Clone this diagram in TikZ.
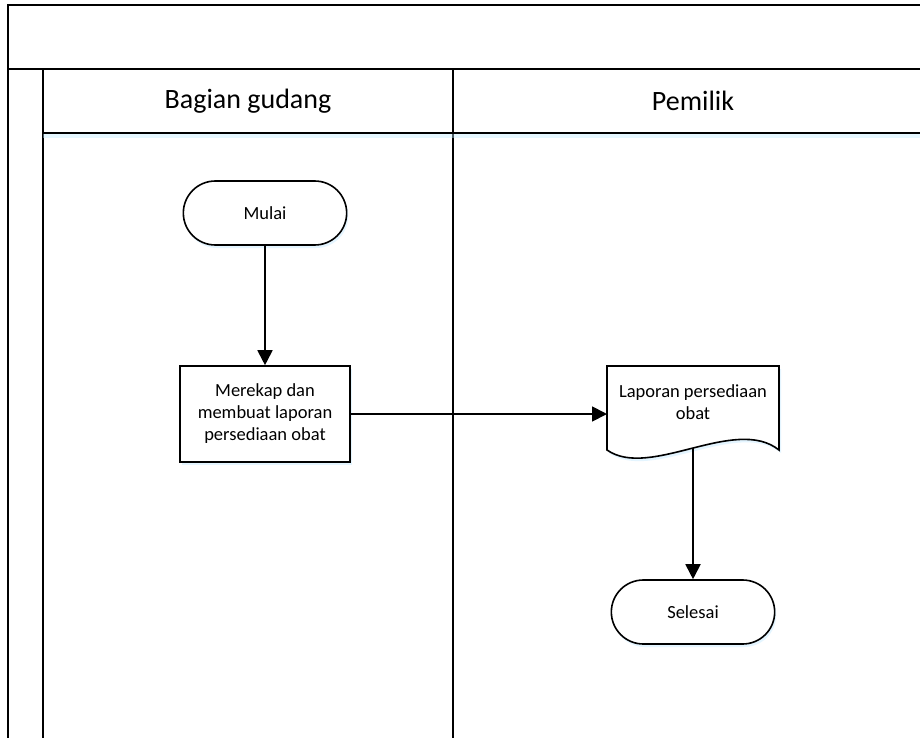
\documentclass[tikz,border=0pt]{standalone}
\usepackage{fontspec}
\setmainfont{Carlito}
\usetikzlibrary{arrows.meta,shapes.misc,shadows}
\tikzset{
  frameline/.style={line width=1.7pt},
  shd/.style={drop shadow={shadow xshift=1.5pt,shadow yshift=-3pt,fill=blue!35!cyan!30,opacity=0.35}},
  termbox/.style={rounded rectangle,draw,fill=white,line width=1.6pt,minimum width=170pt,minimum height=64pt,shd,font=\fontsize{18.5}{22}\selectfont},
  procbox/.style={rectangle,draw,fill=white,line width=1.6pt,minimum width=170pt,minimum height=96pt,align=center,shd,font=\fontsize{18.5}{22}\selectfont},
  headtext/.style={font=\fontsize{28}{32}\selectfont},
  flow/.style={line width=1.8pt,-{Triangle[length=15pt,width=15pt]}}
}
\begin{document}
\begin{tikzpicture}[x=1pt,y=-1pt]
\clip (0,0) rectangle (920,738);
\fill[white] (0,0) rectangle (920,738);
% pool frame
\draw[frameline] (8,740) -- (8,5) -- (940,5);
\draw[frameline] (8,69) -- (940,69);
\draw[frameline] (43,69) -- (43,740);
\draw[frameline] (453,69) -- (453,740);
\fill[blue!30!cyan!25,opacity=0.4] (43,134) rectangle (940,138);
\draw[frameline] (43,133) -- (940,133);
% headers
\node[headtext] (h1) at (248,101) {Bagian gudang};
\node[headtext] (h2) at (693,101) {Pemilik};
% nodes
\node[termbox] (mulai) at (265,213) {Mulai};
\node[procbox] (rekap) at (265,414) {Merekap dan\\membuat laporan\\persediaan obat};
\node[termbox] (selesai) at (693,612) {Selesai};
% document
\fill[blue!35!cyan!30,opacity=0.35] (609,369) -- (781,369) -- (781,453) .. controls (737,418) and (652,483) .. (609,453) -- cycle;
\draw[line width=1.6pt,fill=white] (607,366) -- (779,366) -- (779,450) .. controls (735,415) and (650,480) .. (607,450) -- cycle;
\node[align=center,font=\fontsize{18.5}{22}\selectfont] (lap) at (693,402) {Laporan persediaan\\obat};
\coordinate (docl) at (607,414);
\coordinate (docb) at (693,448);
% connectors
\draw[flow] (mulai) -- (rekap);
\draw[flow] (rekap.east) -- (docl);
\draw[flow] (docb) -- (selesai.north);
\end{tikzpicture}
\end{document}
